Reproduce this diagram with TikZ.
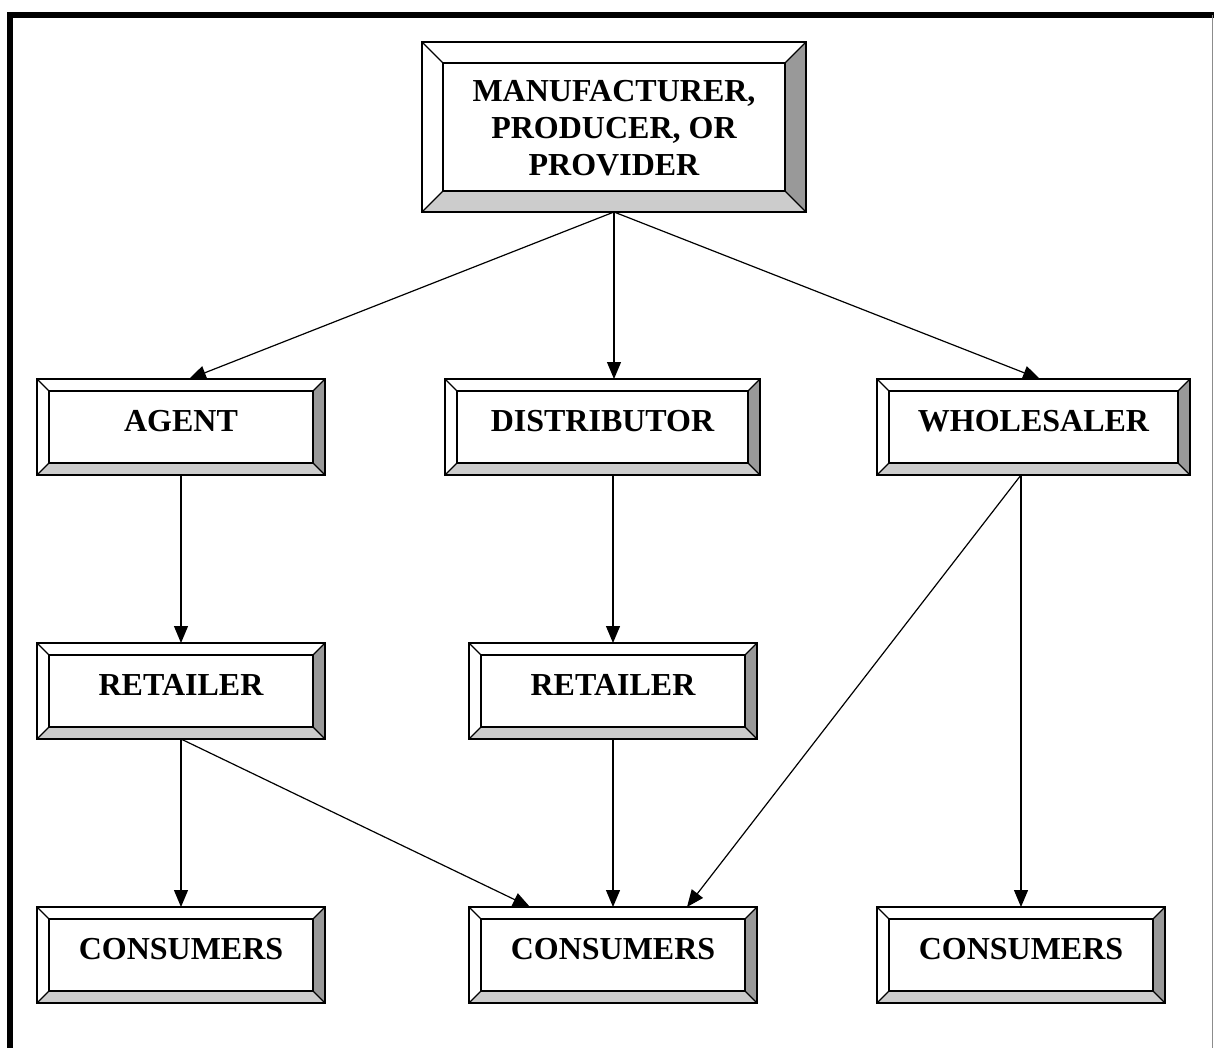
\documentclass[tikz,border=0pt]{standalone}
\usepackage{fontspec}
\setmainfont{Liberation Serif}
\usetikzlibrary{arrows.meta,calc}
\definecolor{bevdark}{HTML}{999999}
\definecolor{bevlight}{HTML}{CCCCCC}
\tikzset{
  boxshape/.style={rectangle, inner sep=0pt, outer sep=0pt, draw=none},
  bevline/.style={draw=black, line width=1.3pt, line join=miter},
  boxtext/.style={inner sep=0pt, font=\bfseries\fontsize{32}{37}\selectfont, align=center},
  flow/.style={draw=black, line width=1.2pt, -{Triangle[length=17pt,width=14pt]}},
}
% name, cx, cy, width, height, bevel, text
\newcommand\bevbox[7]{%
  \node[boxshape, minimum width=#4pt, minimum height=#5pt] (#1) at (#2,#3) {};
  \fill[white] (#1.north west) rectangle (#1.south east);
  \fill[bevdark] (#1.north east) -- (#1.south east) -- ($(#1.south east)+(-#6,-#6)$) -- ($(#1.north east)+(-#6,#6)$) -- cycle;
  \fill[bevlight] (#1.south west) -- (#1.south east) -- ($(#1.south east)+(-#6,-#6)$) -- ($(#1.south west)+(#6,-#6)$) -- cycle;
  \draw[bevline] (#1.north west) rectangle (#1.south east);
  \draw[bevline] ($(#1.north west)+(#6,#6)$) rectangle ($(#1.south east)+(-#6,-#6)$);
  \draw[bevline] (#1.north west) -- ($(#1.north west)+(#6,#6)$);
  \draw[bevline] (#1.north east) -- ($(#1.north east)+(-#6,#6)$);
  \draw[bevline] (#1.south west) -- ($(#1.south west)+(#6,-#6)$);
  \draw[bevline] (#1.south east) -- ($(#1.south east)+(-#6,-#6)$);
  \node[boxtext, anchor=base] (#1-text) at ($(#1.center)+(0,4)$) {#7};
}
\begin{document}
\begin{tikzpicture}[x=1pt, y=-1pt]
\useasboundingbox (0,0) rectangle (1214,1048);
\fill[white] (0,0) rectangle (1214,1048);
% frame
\draw[line width=6pt, line join=miter] (10,1048) -- (10,15) -- (1214,15);
\draw[black!45, line width=1pt] (1212.5,15) -- (1212.5,1048);

% top box
\node[boxshape, minimum width=384pt, minimum height=170pt] (top) at (614,127) {};
\fill[white] (top.north west) rectangle (top.south east);
\fill[bevdark] (top.north east) -- (top.south east) -- ($(top.south east)+(-21,-21)$) -- ($(top.north east)+(-21,21)$) -- cycle;
\fill[bevlight] (top.south west) -- (top.south east) -- ($(top.south east)+(-21,-21)$) -- ($(top.south west)+(21,-21)$) -- cycle;
\draw[bevline] (top.north west) rectangle (top.south east);
\draw[bevline] ($(top.north west)+(21,21)$) rectangle ($(top.south east)+(-21,-21)$);
\draw[bevline] (top.north west) -- ($(top.north west)+(21,21)$);
\draw[bevline] (top.north east) -- ($(top.north east)+(-21,21)$);
\draw[bevline] (top.south west) -- ($(top.south west)+(21,-21)$);
\draw[bevline] (top.south east) -- ($(top.south east)+(-21,-21)$);
\node[boxtext, anchor=center] (top-text) at (614,128.5) {MANUFACTURER,\\PRODUCER, OR\\PROVIDER};

\bevbox{agent}{181}{427}{288}{96}{12}{AGENT}
\bevbox{dist}{602.5}{427}{315}{96}{12}{DISTRIBUTOR}
\bevbox{whole}{1033.5}{427}{313}{96}{12}{WHOLESALER}
\bevbox{retL}{181}{691}{288}{96}{12}{RETAILER}
\bevbox{retM}{613}{691}{288}{96}{12}{RETAILER}
\bevbox{consL}{181}{955}{288}{96}{12}{CONSUMERS}
\bevbox{consM}{613}{955}{288}{96}{12}{CONSUMERS}
\bevbox{consR}{1021}{955}{288}{96}{12}{CONSUMERS}

% connectors
\draw[flow] (top.south) -- ($(agent.north)+(8,0)$);
\draw[flow] (top.south) -- (top.south |- dist.north);
\draw[flow] (top.south) -- ($(whole.north)+(6.5,0)$);
\draw[flow] (agent.south) -- (retL.north);
\draw[flow] (dist.south -| retM.north) -- (retM.north);
\draw[flow] (retL.south) -- (consL.north);
\draw[flow] (retL.south) -- ($(consM.north)+(-83,0)$);
\draw[flow] (retM.south) -- (consM.north);
\draw[flow] (whole.south -| consR.north) -- ($(consM.north)+(74,0)$);
\draw[flow] (whole.south -| consR.north) -- (consR.north);
\end{tikzpicture}
\end{document}
